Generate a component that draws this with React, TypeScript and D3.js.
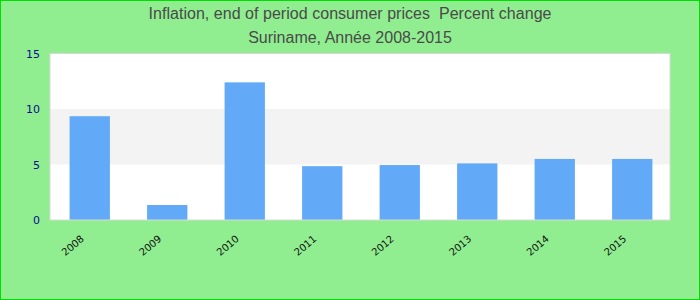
import React from "react";
import * as d3 from "d3";

const years = ["2008", "2009", "2010", "2011", "2012", "2013", "2014", "2015"];
const values = [9.35, 1.35, 12.4, 4.85, 4.95, 5.1, 5.5, 5.5];
const yTicks = [0, 5, 10, 15];
const titleLines = ["Inflation, end of period consumer prices  Percent change", "Suriname, Année 2008-2015"];

export default function App() {
  const W = 700, H = 300;
  const left = 50, right = 670, top = 53.5, bottom = 220;
  const x = d3.scaleBand<string>().domain(years).range([left + 1, right + 1]).paddingInner(0.48).paddingOuter(0.24);
  const y = d3.scaleLinear().domain([0, 15]).range([bottom, top]);
  const font = "Liberation Sans, Arial, sans-serif";
  return (
    <svg width={W} height={H} style={{ position: "absolute", left: 0, top: 0 }}>
      <rect x={0.5} y={0.5} width={W - 1} height={H - 1} fill="#90ee90" stroke="#00e000" />
      {titleLines.map((t, i) => (
        <text key={i} x={W / 2} y={19 + i * 24} textAnchor="middle" fontFamily={font} fontSize={16} fill="#4a4a4a" style={{ whiteSpace: "pre" }} textLength={i === 0 ? 403 : undefined}>{t}</text>
      ))}
      <rect x={left} y={top} width={right - left} height={bottom - top} fill="#ffffff" />
      <rect x={left} y={y(10)} width={right - left} height={y(5) - y(10)} fill="#f3f3f3" />
      {years.map((yr, i) => (
        <rect key={yr} x={x(yr)} y={y(values[i])} width={x.bandwidth()} height={y(0) - y(values[i])} fill="#62a9f7" />
      ))}
      <rect x={left} y={top} width={right - left} height={bottom - top} fill="none" stroke="#d8d8d8" />
      {yTicks.map((t) => (
        <text key={t} x={40} y={y(t) + 4} textAnchor="end" fontFamily="DejaVu Sans, sans-serif" fontSize={11} fill="#0a0a8c">{t}</text>
      ))}
      {years.map((yr) => {
        const cx = (x(yr) as number) + x.bandwidth() / 2;
        return (
          <text key={yr} transform={`translate(${cx - 5},${240}) rotate(-40)`} textAnchor="end" fontFamily="DejaVu Sans, sans-serif" fontSize={10} fill="#111">{yr}</text>
        );
      })}
    </svg>
  );
}
